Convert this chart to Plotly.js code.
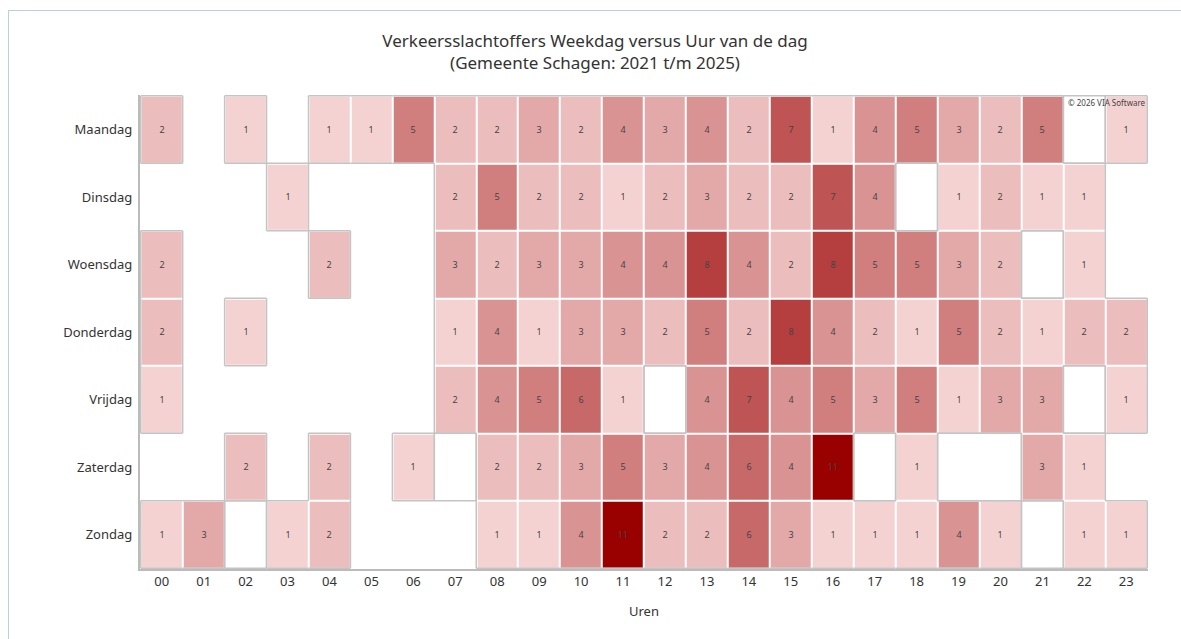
<!DOCTYPE html>
<html>
<head>
<meta charset="utf-8">
<script src="https://cdn.plot.ly/plotly-3.0.1.min.js"></script>
<style>
  body { margin: 0; background: #fff; }
  #frame {
    position: absolute; left: 8px; top: 10px; width: 1180px; height: 640px;
    border-left: 1px solid #b9cfe2; border-top: 1px solid #b9cfe2;
  }
  #myDiv { position: absolute; left: 0; top: 0; width: 1172px; height: 628px; }
</style>
</head>
<body>
<div id="frame"><div id="myDiv"></div></div>
<script>
// Data: victims per weekday and hour (null = no cell, 0 = empty cell)
var hours = ['00','01','02','03','04','05','06','07','08','09','10','11',
             '12','13','14','15','16','17','18','19','20','21','22','23'];
var days = ['Maandag', 'Dinsdag', 'Woensdag', 'Donderdag', 'Vrijdag', 'Zaterdag', 'Zondag'];

var maandag   = [2,null,1,null,1,1,5,2,2,3,2,4,3,4,2,7,1,4,5,3,2,5,0,1];
var dinsdag   = [null,null,null,1,null,null,null,2,5,2,2,1,2,3,2,2,7,4,0,1,2,1,1,null];
var woensdag  = [2,null,null,null,2,null,null,3,2,3,3,4,4,8,4,2,8,5,5,3,2,0,1,null];
var donderdag = [2,null,1,null,null,null,null,1,4,1,3,3,2,5,2,8,4,2,1,5,2,1,2,2];
var vrijdag   = [1,null,null,null,null,null,null,2,4,5,6,1,0,4,7,4,5,3,5,1,3,3,0,1];
var zaterdag  = [null,null,2,null,2,null,1,0,2,2,3,5,3,4,6,4,11,0,1,0,0,3,1,null];
var zondag    = [1,3,0,1,2,null,null,null,1,1,4,11,2,2,6,3,1,1,1,4,1,0,1,1];

var z = [maandag, dinsdag, woensdag, donderdag, vrijdag, zaterdag, zondag];

// labels, hide zeros
var txt = z.map(row => row.map(v => (v === null || v === 0) ? '' : String(v)));

// grey outline between cells of a different kind (none / empty / filled)
function kind(r, c) {
    if (r < 0 || r >= z.length || c < 0 || c >= hours.length) return 0;
    var v = z[r][c];
    if (v === null) return 0;
    return v === 0 ? 1 : 2;
}
var edges = [];
var lineStyle = {color: '#c4c4c4', width: 1.5};
function edge(x0, x1, y0, y1) {
    edges.push({type: 'line', xref: 'x', yref: 'y', x0: x0, x1: x1, y0: y0, y1: y1, line: lineStyle});
}
for (var r = 0; r < z.length; r++) {
    for (var c = 0; c < hours.length; c++) {
        var k = kind(r, c);
        if (k === 0) continue;
        if (kind(r - 1, c) !== k) edge(c - 0.5, c + 0.5, r - 0.5, r - 0.5);
        if (kind(r + 1, c) !== k) edge(c - 0.5, c + 0.5, r + 0.5, r + 0.5);
        if (kind(r, c - 1) !== k) edge(c - 0.5, c - 0.5, r - 0.5, r + 0.5);
        if (kind(r, c + 1) !== k) edge(c + 0.5, c + 0.5, r - 0.5, r + 0.5);
    }
}

var data = [{
    type: 'heatmap',
    x: hours,
    y: days,
    z: z,
    text: txt,
    texttemplate: '%{text}',
    textfont: {family: 'Noto Sans', size: 9, color: '#444'},
    zmin: 0,
    zmax: 11,
    colorscale: [[0, '#ffffff'], [1 / 11, '#f5d2d2'], [1, '#990000']],
    showscale: false,
    xgap: 2,
    ygap: 2,
    hoverinfo: 'none'
}];

var layout = {
    width: 1172,
    height: 628,
    font: {family: 'Noto Sans', color: '#333'},
    title: {
        text: 'Verkeersslachtoffers Weekdag versus Uur van de dag<br>(Gemeente Schagen: 2021 t/m 2025)',
        font: {size: 17, color: '#333'},
        xref: 'container',
        x: 0.5,
        yref: 'container',
        y: 0.943,
        yanchor: 'middle'
    },
    margin: {t: 84, b: 70, l: 131, r: 33},
    xaxis: {
        type: 'category',
        showgrid: false,
        zeroline: false,
        showline: true,
        linecolor: '#bbbbbb',
        linewidth: 1.5,
        ticks: '',
        tickfont: {size: 13, color: '#333'},
        title: {text: 'Uren', font: {size: 13, color: '#333'}, standoff: 18}
    },
    yaxis: {
        type: 'category',
        autorange: 'reversed',
        showgrid: false,
        zeroline: false,
        showline: true,
        linecolor: '#bbbbbb',
        linewidth: 1.5,
        ticks: '',
        ticksuffix: ' ',
        tickfont: {size: 13, color: '#333'}
    },
    shapes: edges,
    annotations: [{
        xref: 'paper', yref: 'paper',
        x: 1, y: 1,
        xanchor: 'right', yanchor: 'top',
        text: '© 2026 VIA Software',
        showarrow: false,
        font: {size: 8, color: '#444'}
    }],
    paper_bgcolor: 'rgba(0,0,0,0)',
    plot_bgcolor: '#ffffff'
};

Plotly.newPlot('myDiv', data, layout, {displayModeBar: false});
</script>
</body>
</html>
